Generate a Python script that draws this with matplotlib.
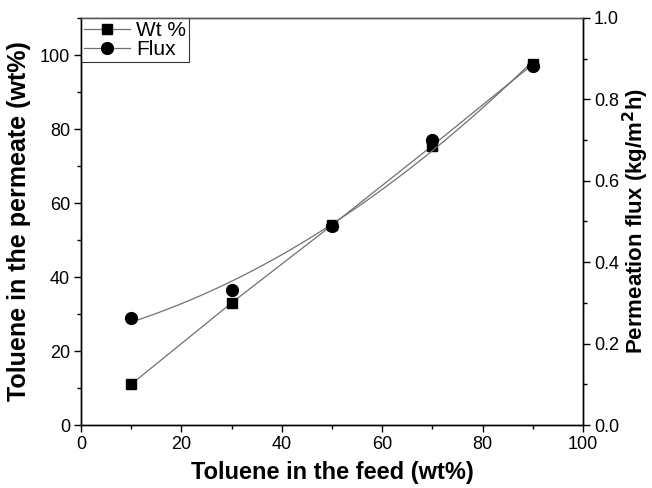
import numpy as np
import matplotlib
matplotlib.use('Agg')
import matplotlib.pyplot as plt
from matplotlib.ticker import MultipleLocator
plt.rcParams['font.family'] = ['Liberation Sans', 'DejaVu Sans']

feed = [10, 30, 50, 70, 90]
wt_permeate = [11, 33, 54, 75.5, 97.5]
flux = [0.264, 0.332, 0.49, 0.70, 0.882]

fig = plt.figure(figsize=(6.52, 4.88), dpi=100)
ax = fig.add_axes([81/652, 1 - 425/488, (583 - 81)/652, (425 - 18)/488])
ax2 = ax.twinx()

# wt% series: straight segments
l1, = ax.plot(feed, wt_permeate, color='#707070', lw=0.9, marker='s', ms=7,
              mfc='black', mec='black', label='Wt %')

# flux series: smooth fitted curve + points
coef = np.polyfit(feed, flux, 2)
xs = np.linspace(feed[0], feed[-1], 200)
ax2.plot(xs, np.polyval(coef, xs), color='#707070', lw=0.9)
ax2.plot(feed, flux, ls='none', marker='o', ms=8.5, mfc='black', mec='black')
l2, = ax.plot([], [], color='#707070', lw=0.9, marker='o', ms=8.5,
              mfc='black', mec='black', label='Flux')

ax.set_xlim(0, 100)
ax.set_ylim(0, 110)
ax2.set_ylim(0, 1.0)
ax.xaxis.set_major_locator(MultipleLocator(20))
ax.xaxis.set_minor_locator(MultipleLocator(10))
ax.yaxis.set_major_locator(MultipleLocator(20))
ax.yaxis.set_minor_locator(MultipleLocator(10))
ax2.yaxis.set_major_locator(MultipleLocator(0.2))
ax2.yaxis.set_minor_locator(MultipleLocator(0.1))

for a in (ax, ax2):
    a.tick_params(which='major', direction='out', length=5, width=1, labelsize=13, pad=3)
    a.tick_params(which='minor', direction='out', length=3, width=1)
    for s in a.spines.values():
        s.set_linewidth(1)
ax.spines['top'].set_color('#555555')
ax2.spines['top'].set_color('#555555')

ax.set_xlabel('Toluene in the feed (wt%)', fontsize=17, fontweight='bold', labelpad=6)
ax.set_ylabel('Toluene in the permeate (wt%)', fontsize=18, fontweight='bold', labelpad=6)
ax2.set_ylabel('Permeation flux (kg/m$^\\mathbf{2}$h)', fontsize=16, fontweight='bold', labelpad=1)

leg = ax.legend(handles=[l1, l2], loc='upper left', fontsize=15, frameon=True,
                fancybox=False, edgecolor='black', borderaxespad=0,
                handlelength=2.2, handletextpad=0.3, borderpad=0.15,
                labelspacing=0.0)
leg.get_frame().set_linewidth(0.8)

fig.savefig('out.png', dpi=100)
